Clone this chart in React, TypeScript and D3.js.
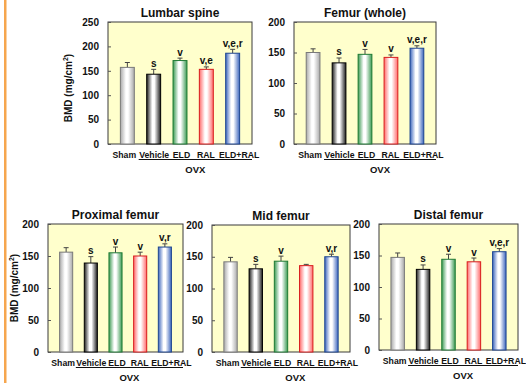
import { useEffect, useRef } from "react";
import * as d3 from "d3";

const groups = ["Sham", "Vehicle", "ELD", "RAL", "ELD+RAL"];

const lumbarMean = [157, 143, 171, 153, 186];
const lumbarErr = [10, 10, 5, 5, 8];
const lumbarSig = ["", "s", "v", "v,e", "v,e,r"];

const femurMean = [150, 133, 147, 142, 157];
const femurErr = [6, 8, 8, 4, 4];
const femurSig = ["", "s", "v", "v", "v,e,r"];

const proximalMean = [156, 139, 155, 150, 164];
const proximalErr = [7, 10, 9, 6, 5];
const proximalSig = ["", "s", "v", "v", "v,r"];

const midMean = [142, 131, 143, 136, 150];
const midErr = [7, 7, 8, 2, 4];
const midSig = ["", "s", "v", "", "v,r"];

const distalMean = [147, 128, 144, 140, 156];
const distalErr = [7, 7, 8, 6, 5];
const distalSig = ["", "s", "v", "v", "v,e,r"];

// bar looks: edge colour of the cylinder gradient + outline
const barStyles = [
  { edge: "#a9a9a9", stroke: "#7a7a7a" },
  { edge: "#1e1e1e", stroke: "#000000" },
  { edge: "#3c9a52", stroke: "#1f7a35" },
  { edge: "#ff6b6b", stroke: "#d81c1c" },
  { edge: "#3d66bd", stroke: "#1d4590" },
];
// the category labels sit a little off the bar centres
const labelShift = [-3, 0.5, 1.5, -0.5, 6.5];

const FONT = "'Liberation Sans', Arial, sans-serif";

interface PanelProps {
  title: string;
  means: number[];
  errs: number[];
  sig: string[];
  yMax: number;
  left: number;
  right: number;
  top: number;
  bottom: number;
  yLabelAt?: [number, number];
}

const BmdPanel = ({ title, means, errs, sig, yMax, left, right, top, bottom, yLabelAt }: PanelProps) => {
  const gRef = useRef<SVGGElement>(null);

  useEffect(() => {
    if (!gRef.current) return;
    const g = d3.select(gRef.current);
    g.selectAll("*").remove();

    const x = d3.scaleBand().domain(groups).range([left, right]).padding(0.47);
    const y = d3.scaleLinear().domain([0, yMax]).range([bottom, top]);
    const rows = groups.map((name, i) => ({ name, i, mean: means[i], err: errs[i], sig: sig[i] }));

    // plot background
    g.append("rect")
      .attr("x", left)
      .attr("y", top)
      .attr("width", right - left)
      .attr("height", bottom - top)
      .attr("fill", "#ffffcc")
      .attr("stroke", "#3a3a3a")
      .attr("stroke-width", 1);

    // y axis
    const axis = g
      .append("g")
      .attr("transform", `translate(${left},0)`)
      .call(
        d3
          .axisLeft(y)
          .tickValues(d3.range(0, yMax + 1, 50))
          .tickSizeInner(-3)
          .tickSizeOuter(0)
          .tickPadding(9)
      );
    axis.select(".domain").remove();
    axis.selectAll("line").attr("stroke", "#555");
    axis
      .selectAll("text")
      .attr("font-family", FONT)
      .attr("font-size", 10)
      .attr("font-weight", "bold")
      .attr("fill", "#111");

    // error bars (upper only)
    const cx = (d: { name: string }) => (x(d.name) || 0) + x.bandwidth() / 2;
    g.selectAll(".err")
      .data(rows)
      .join("path")
      .attr("class", "err")
      .attr("d", (d) => {
        const c = cx(d);
        const t = y(d.mean + d.err);
        return `M${c},${y(d.mean)}V${t}M${c - 2.5},${t}H${c + 2.5}`;
      })
      .attr("stroke", "#444")
      .attr("stroke-width", 1)
      .attr("fill", "none");

    // bars
    g.selectAll(".bar")
      .data(rows)
      .join("rect")
      .attr("class", "bar")
      .attr("x", (d) => x(d.name) || 0)
      .attr("y", (d) => y(d.mean))
      .attr("width", x.bandwidth())
      .attr("height", (d) => bottom - y(d.mean))
      .attr("fill", (d) => `url(#bar-grad-${d.i})`)
      .attr("stroke", (d) => barStyles[d.i].stroke)
      .attr("stroke-width", 1);

    // significance letters
    g.selectAll(".sig")
      .data(rows.filter((d) => d.sig))
      .join("text")
      .attr("class", "sig")
      .attr("x", cx)
      .attr("y", (d) => y(d.mean + d.err) - 2.5)
      .attr("text-anchor", "middle")
      .attr("font-family", FONT)
      .attr("font-size", 10)
      .attr("font-weight", "bold")
      .attr("fill", "#111")
      .text((d) => d.sig);

    // category labels
    g.selectAll(".cat")
      .data(rows)
      .join("text")
      .attr("class", "cat")
      .attr("x", (d) => cx(d) + labelShift[d.i])
      .attr("y", bottom + 13.5)
      .attr("text-anchor", "middle")
      .attr("font-family", FONT)
      .attr("font-size", 8.7)
      .attr("font-weight", "bold")
      .attr("fill", "#111")
      .text((d) => d.name);

    // OVX bracket
    const vx = cx(rows[1]) - 15;
    g.append("line")
      .attr("x1", vx)
      .attr("x2", right)
      .attr("y1", bottom + 15.5)
      .attr("y2", bottom + 15.5)
      .attr("stroke", "#111")
      .attr("stroke-width", 1);
    g.append("text")
      .attr("x", (vx + right) / 2)
      .attr("y", bottom + 29)
      .attr("text-anchor", "middle")
      .attr("font-family", FONT)
      .attr("font-size", 9.5)
      .attr("font-weight", "bold")
      .attr("fill", "#111")
      .text("OVX");

    // title
    g.append("text")
      .attr("x", (left + right) / 2)
      .attr("y", top - 5)
      .attr("text-anchor", "middle")
      .attr("font-family", FONT)
      .attr("font-size", 12)
      .attr("font-weight", "bold")
      .attr("fill", "#111")
      .text(title);

    if (yLabelAt) {
      const lab = g
        .append("text")
        .attr("transform", `translate(${yLabelAt[0]},${yLabelAt[1]}) rotate(-90)`)
        .attr("text-anchor", "middle")
        .attr("font-family", FONT)
        .attr("font-size", 10)
        .attr("font-weight", "bold")
        .attr("fill", "#111");
      lab.append("tspan").text("BMD (mg/cm");
      lab.append("tspan").attr("dy", -4).attr("font-size", 7).text("2");
      lab.append("tspan").attr("dy", 4).text(")");
    }
  }, [title, means, errs, sig, yMax, left, right, top, bottom, yLabelAt]);

  return <g ref={gRef} />;
};

export default function App() {
  return (
    <svg
      width={526}
      height={383}
      style={{ position: "absolute", left: 0, top: 0, background: "#fff" }}
    >
      <defs>
        {barStyles.map((s, i) => (
          <linearGradient key={i} id={`bar-grad-${i}`} x1="0" x2="1" y1="0" y2="0">
            <stop offset="0" stopColor={s.edge} />
            <stop offset="0.4" stopColor="#ffffff" />
            <stop offset="0.55" stopColor="#ffffff" />
            <stop offset="1" stopColor={s.edge} />
          </linearGradient>
        ))}
      </defs>
      <rect x={4} y={0} width={2.5} height={383} fill="#f6a64e" />
      <BmdPanel title="Lumbar spine" means={lumbarMean} errs={lumbarErr} sig={lumbarSig}
        yMax={250} left={108} right={252} top={22} bottom={144} yLabelAt={[72, 88]} />
      <BmdPanel title="Femur (whole)" means={femurMean} errs={femurErr} sig={femurSig}
        yMax={200} left={294} right={436} top={22} bottom={144} />
      <BmdPanel title="Proximal femur" means={proximalMean} errs={proximalErr} sig={proximalSig}
        yMax={200} left={48} right={183} top={224} bottom={352} yLabelAt={[18, 288]} />
      <BmdPanel title="Mid femur" means={midMean} errs={midErr} sig={midSig}
        yMax={200} left={212} right={350} top={225} bottom={352} />
      <BmdPanel title="Distal femur" means={distalMean} errs={distalErr} sig={distalSig}
        yMax={200} left={379} right={518} top={224} bottom={350} />
    </svg>
  );
}
